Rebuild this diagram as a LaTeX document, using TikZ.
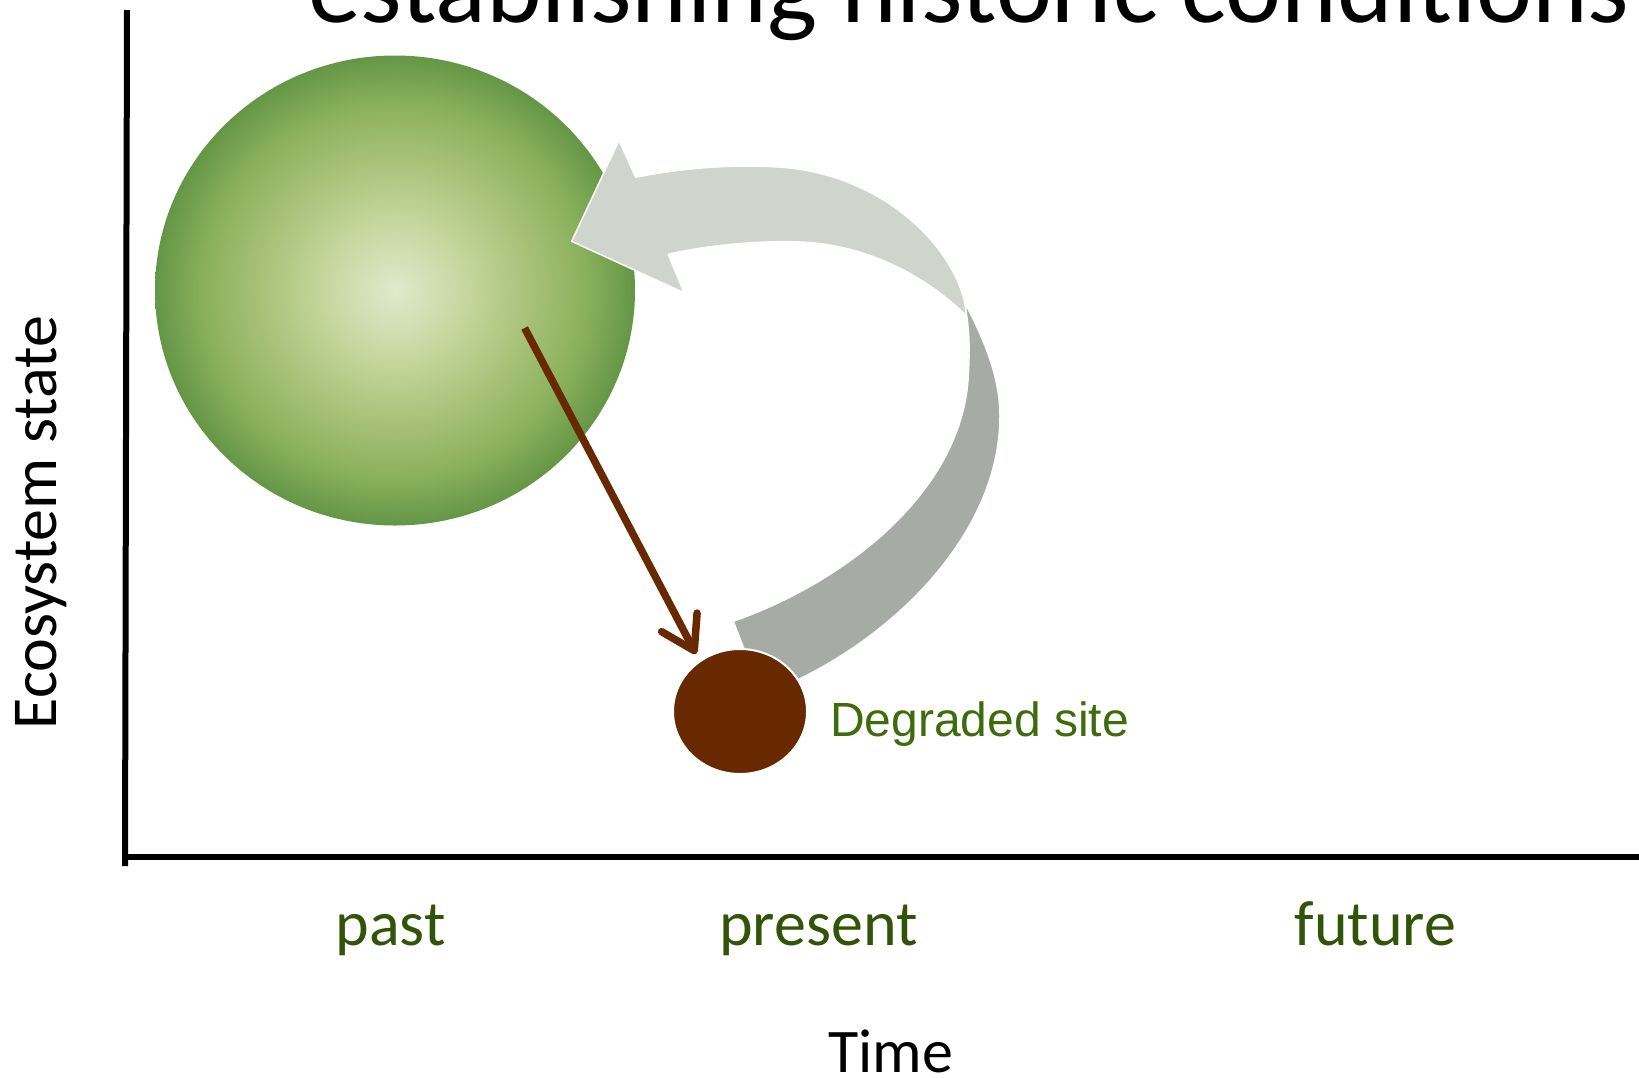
\documentclass[tikz,border=0pt]{standalone}
\usepackage{fontspec}
\setmainfont{Carlito}
\newfontfamily\arialf{Liberation Sans}
\usetikzlibrary{arrows.meta,shapes.geometric}
\definecolor{lblgreen}{RGB}{48,84,8}
\definecolor{degreen}{RGB}{62,108,12}
\definecolor{soil}{RGB}{105,41,0}
\definecolor{arrowlight}{RGB}{207,212,204}
\definecolor{arrowdark}{RGB}{166,171,165}
\definecolor{gA}{RGB}{222,234,204}
\definecolor{gB}{RGB}{198,216,160}
\definecolor{gC}{RGB}{168,194,120}
\definecolor{gD}{RGB}{138,176,92}
\definecolor{gE}{RGB}{100,150,70}
\pgfdeclareradialshading{greenball}{\pgfpoint{0bp}{0bp}}{color(0bp)=(gA); color(7bp)=(gB); color(14bp)=(gC); color(20bp)=(gD); color(25bp)=(gE); color(50bp)=(gE)}
\tikzset{
  axisline/.style={black, line width=6pt},
  lbl/.style={text=lblgreen, font=\fontsize{64}{70}\selectfont, inner sep=0pt, anchor=base},
  axlbl/.style={text=black, font=\fontsize{62}{70}\selectfont, inner sep=0pt, anchor=base},
  ttl/.style={text=black, font=\fontsize{106}{120}\selectfont, inner sep=0pt, anchor=base west},
  bandlight/.style={fill=arrowlight, draw=white, line width=1.5pt, line join=round},
  banddark/.style={fill=arrowdark, draw=white, line width=1.5pt, line join=round},
  brownarrow/.style={draw=soil, line width=7.5pt, -{Straight Barb[length=32pt,width=40pt,round]}}
}
\begin{document}
\begin{tikzpicture}[x=1pt,y=-1pt]
\useasboundingbox (0,0) rectangle (1639,1077);
% title (cut by the top edge)
\node[ttl] (title) at (308,22) {establishing historic conditions};
% axes
\coordinate (ytop) at (127,10);
\coordinate (ybot) at (125,866);
\coordinate (xl) at (122,857);
\coordinate (xr) at (1645,857);
\draw[axisline] (ytop) -- (ybot);
\draw[axisline] (xl) -- (xr);
% historic state
\node[ellipse, minimum width=480pt, minimum height=470pt, inner sep=0pt, outer sep=0pt, shading=greenball] (hist) at (395,290.5) {};
% big grey curved arrow: lighter front part
\path[bandlight] (571.7,241.3) -- (619,140.3) -- (635.7,177.3)
  .. controls (680,168) and (740,163) .. (790,168)
  .. controls (880,178) and (950,240) .. (965,303.1)
  -- (966.7,316.1)
  .. controls (930,280) and (880,252) .. (823,244)
  .. controls (790,239) and (720,242) .. (668.3,254.3)
  -- (684,292.8) -- cycle;
% darker back part
\path[banddark] (965,303.1)
  .. controls (990,350) and (1000,385) .. (1000,416)
  .. controls (1000,530) and (900,630) .. (800,678.6)
  -- (770,690) -- (750,665) -- (743.3,647.2) -- (733.3,621.3)
  .. controls (850,580) and (960,490) .. (968,380)
  .. controls (970,350) and (969,330) .. (966.7,316.1)
  -- cycle;
% degradation arrow
\coordinate (degstart) at (524.6,328);
\coordinate (degend) at (696,654);
\draw[brownarrow] (degstart) -- (degend);
% degraded site
\node[ellipse, minimum width=134pt, minimum height=125pt, inner sep=0pt, fill=soil, draw=white, line width=2pt] (deg) at (740,711.5) {};
\node[text=degreen, font=\arialf\fontsize{48}{55}\selectfont, inner sep=0pt, anchor=base west] (deglbl) at (830,736) {Degraded site};
% axis labels
\node[lbl] (past) at (390.5,945) {past};
\node[lbl] (present) at (818.5,945) {present};
\node[lbl] (future) at (1375.5,945) {future};
\node[axlbl, text depth=0pt] (time) at (891,1072) {Time};
\node[axlbl, font=\fontsize{64}{70}\selectfont, rotate=90] (eco) at (56,522.5) {Ecosystem state};
\end{tikzpicture}
\end{document}
